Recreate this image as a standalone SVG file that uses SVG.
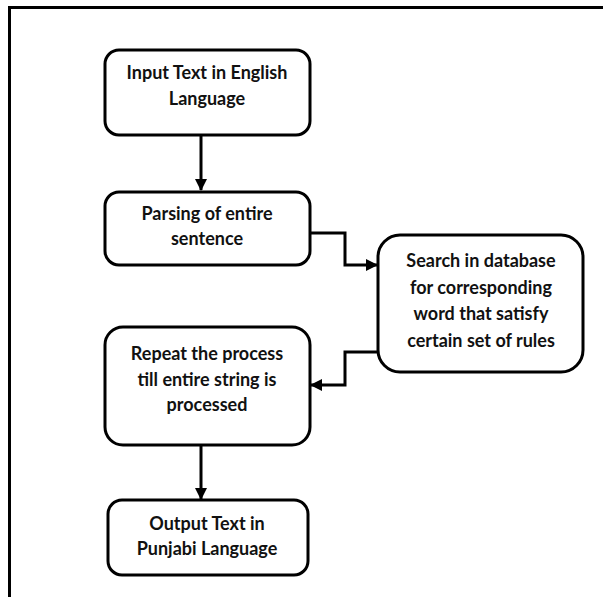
<svg xmlns="http://www.w3.org/2000/svg" width="603" height="597" viewBox="0 0 603 597">
<defs>
<style>
.box{fill:#fff;stroke:#000;stroke-width:3}
.t{font-family:Lato,"Liberation Sans",sans-serif;font-weight:bold;font-size:18px;fill:#111;text-anchor:middle}
.c{fill:none;stroke:#000;stroke-width:3}
</style>
<marker id="ah" markerWidth="12" markerHeight="12" refX="11" refY="6" orient="auto" markerUnits="userSpaceOnUse" viewBox="0 0 12 12">
<path d="M0,0 L12,6 L0,12 Z" fill="#000"/>
</marker>
</defs>
<rect width="603" height="597" fill="#fff"/>
<path d="M9.5,597 V7.5 H603" fill="none" stroke="#000" stroke-width="3"/>
<g id="connectors">
<path class="c" d="M201,136 V190" marker-end="url(#ah)"/>
<path class="c" d="M311,233 H345 V265 H377" marker-end="url(#ah)"/>
<path class="c" d="M377,352 H345 V385 H311" marker-end="url(#ah)"/>
<path class="c" d="M201,446 V499" marker-end="url(#ah)"/>
</g>
<g id="n1">
<rect class="box" x="105" y="50" width="205" height="85" rx="14"/>
<text class="t" x="207" y="79">Input Text in English</text>
<text class="t" x="207" y="105">Language</text>
</g>
<g id="n2">
<rect class="box" x="105" y="192" width="205" height="73" rx="14"/>
<text class="t" x="207" y="220">Parsing of entire</text>
<text class="t" x="207" y="245">sentence</text>
</g>
<g id="n3">
<rect class="box" x="378" y="235" width="205" height="137" rx="22"/>
<text class="t" x="481" y="267">Search in database</text>
<text class="t" x="481" y="294">for corresponding</text>
<text class="t" x="481" y="320">word that satisfy</text>
<text class="t" x="481" y="347">certain set of rules</text>
</g>
<g id="n4">
<rect class="box" x="105" y="327" width="205" height="118" rx="18"/>
<text class="t" x="207" y="360">Repeat the process</text>
<text class="t" x="207" y="386">till entire string is</text>
<text class="t" x="207" y="411">processed</text>
</g>
<g id="n5">
<rect class="box" x="108" y="500" width="200" height="75" rx="14"/>
<text class="t" x="207" y="530">Output Text in</text>
<text class="t" x="207" y="555">Punjabi Language</text>
</g>
</svg>
